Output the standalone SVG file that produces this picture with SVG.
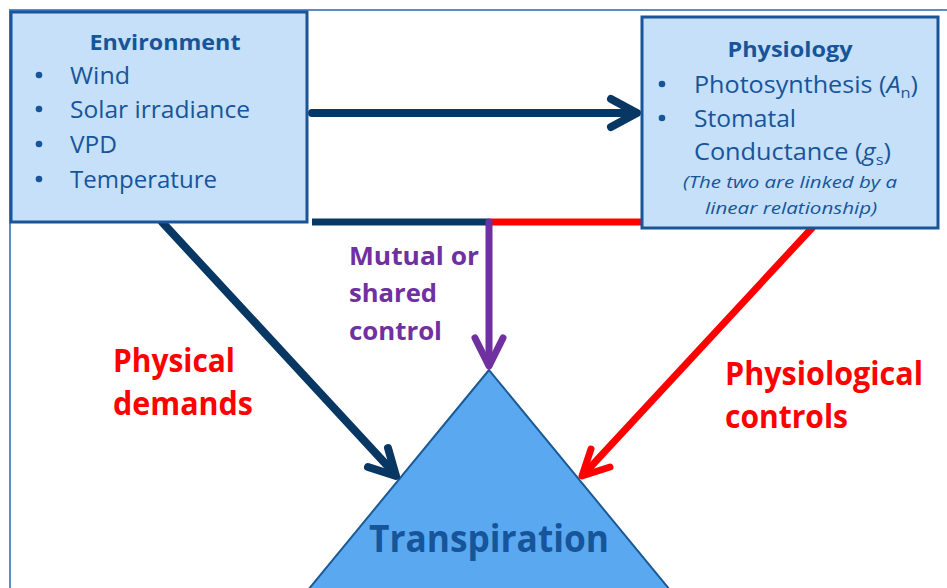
<svg xmlns="http://www.w3.org/2000/svg" width="947" height="588" viewBox="0 0 947 588">
<style>
.box{fill:#C5E0F8;stroke:#1A5598;stroke-width:3}
.bt{font-family:"Open Sans","Liberation Sans",sans-serif;fill:#17559B}
.hd{font-weight:bold;font-size:21px}
.it{font-size:23px}
.sm{font-style:italic;font-size:16px}
.bul{fill:#17559B}
.lbl{font-family:"Open Sans","Liberation Sans",sans-serif;font-weight:bold}
.red{fill:#FF0000;font-size:32px}
.pur{fill:#7030A0;font-size:25px}
.dk{stroke:#083763;fill:none;stroke-width:8;stroke-linecap:round;stroke-linejoin:round}
.rd{stroke:#FF0000;fill:none;stroke-width:7;stroke-linecap:round;stroke-linejoin:round}
.pp{stroke:#7030A0;fill:none;stroke-width:7;stroke-linecap:round;stroke-linejoin:round}
</style>
<rect width="947" height="588" fill="#FFFFFF"/>
<path d="M10,588 V10 H947" fill="none" stroke="#5B8BC9" stroke-width="2"/>

<g id="transpiration">
<polygon points="489,370 308,590 670,590" fill="#5AA8F0" stroke="#1C5A96" stroke-width="2"/>
<text x="489" y="552" text-anchor="middle" class="lbl" font-size="38" fill="#17559B" textLength="240" lengthAdjust="spacingAndGlyphs">Transpiration</text>
</g>

<g id="connectors">
<line x1="312" y1="113" x2="636" y2="113" class="dk" stroke-linecap="butt"/>
<polyline points="611,99 637,113 611,127" class="dk"/>
<line x1="312" y1="222" x2="489" y2="222" stroke="#083763" stroke-width="7"/>
<line x1="489" y1="222" x2="641" y2="222" stroke="#FF0000" stroke-width="7"/>
<line x1="489" y1="222" x2="489" y2="365" class="pp" stroke-linecap="butt"/>
<polyline points="475,338 489,366 503,338" class="pp"/>
<line x1="162" y1="222" x2="395" y2="474" class="dk" stroke-width="7" stroke-linecap="butt"/>
<polyline points="388,448 396,476 368,467" class="dk" stroke-width="7"/>
<line x1="812" y1="228" x2="584" y2="474" class="rd" stroke-linecap="butt"/>
<polyline points="591,449 582,476 610,467" class="rd"/>
</g>

<g id="environment">
<rect x="11" y="12" width="296" height="210" class="box"/>
<text x="165" y="50" text-anchor="middle" class="bt hd" textLength="151" lengthAdjust="spacingAndGlyphs">Environment</text>
<circle cx="39" cy="75" r="3.3" class="bul"/>
<circle cx="39" cy="109" r="3.3" class="bul"/>
<circle cx="39" cy="144" r="3.3" class="bul"/>
<circle cx="39" cy="179" r="3.3" class="bul"/>
<g class="bt it">
<text x="70" y="84" textLength="60" lengthAdjust="spacingAndGlyphs">Wind</text>
<text x="70" y="118" textLength="180" lengthAdjust="spacingAndGlyphs">Solar irradiance</text>
<text x="70" y="153" textLength="47" lengthAdjust="spacingAndGlyphs">VPD</text>
<text x="70" y="188" textLength="147" lengthAdjust="spacingAndGlyphs">Temperature</text>
</g>
</g>

<g id="physiology">
<rect x="642" y="17" width="296" height="211" class="box"/>
<text x="790" y="57" text-anchor="middle" class="bt hd" textLength="125" lengthAdjust="spacingAndGlyphs">Physiology</text>
<circle cx="662" cy="84" r="3.3" class="bul"/>
<circle cx="662" cy="118" r="3.3" class="bul"/>
<g class="bt it">
<text x="694" y="93" textLength="224" lengthAdjust="spacingAndGlyphs">Photosynthesis (<tspan font-style="italic">A</tspan><tspan font-size="15" dy="5">n</tspan><tspan dy="-5">)</tspan></text>
<text x="694" y="127" textLength="102" lengthAdjust="spacingAndGlyphs">Stomatal</text>
<text x="694" y="160" textLength="197" lengthAdjust="spacingAndGlyphs">Conductance (<tspan font-style="italic">g</tspan><tspan font-size="15" dy="5">s</tspan><tspan dy="-5">)</tspan></text>
</g>
<text x="790" y="188" text-anchor="middle" class="bt sm" textLength="214" lengthAdjust="spacingAndGlyphs">(The two are linked by a</text>
<text x="791" y="214" text-anchor="middle" class="bt sm" textLength="172" lengthAdjust="spacingAndGlyphs">linear relationship)</text>
</g>

<g id="labels">
<text x="113" y="372" class="lbl red" textLength="122" lengthAdjust="spacingAndGlyphs">Physical</text>
<text x="113" y="415" class="lbl red" textLength="140" lengthAdjust="spacingAndGlyphs">demands</text>
<text x="725" y="385" class="lbl red" textLength="198" lengthAdjust="spacingAndGlyphs">Physiological</text>
<text x="725" y="428" class="lbl red" textLength="123" lengthAdjust="spacingAndGlyphs">controls</text>
<text x="349" y="265" class="lbl pur" textLength="130" lengthAdjust="spacingAndGlyphs">Mutual or</text>
<text x="349" y="302" class="lbl pur" textLength="88" lengthAdjust="spacingAndGlyphs">shared</text>
<text x="349" y="340" class="lbl pur" textLength="93" lengthAdjust="spacingAndGlyphs">control</text>
</g>
</svg>
